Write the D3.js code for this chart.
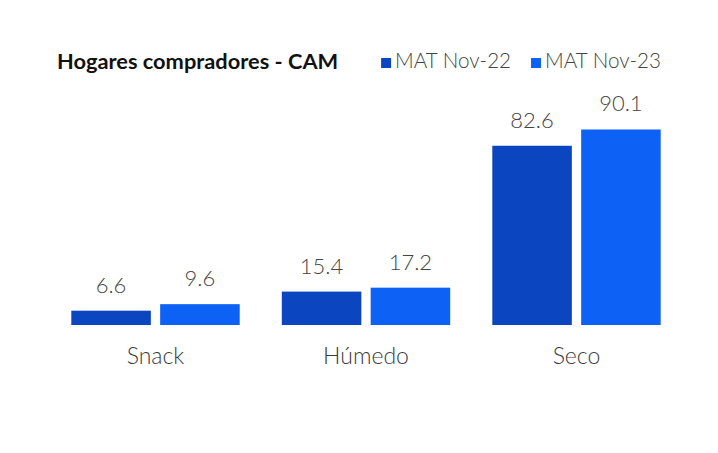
<!DOCTYPE html>
<html>
<head>
<meta charset="utf-8">
<script src="https://cdn.jsdelivr.net/npm/d3@7"></script>
<style>
  body { margin: 0; background: #fff; }
  svg { display: block; font-family: Lato, "Open Sans", sans-serif; }
</style>
</head>
<body>
<svg id="chart" width="718" height="453"></svg>
<script>
// data
const categories = ["Snack", "Húmedo", "Seco"];
const series = ["MAT Nov-22", "MAT Nov-23"];
const nov22 = [6.6, 15.4, 82.6];
const nov23 = [9.6, 17.2, 90.1];
const title = "Hogares compradores - CAM";

const colors = d3.scaleOrdinal().domain(series).range(["#0b45bf", "#0d62f5"]);

const rows = categories.map((c, i) => ({ cat: c, values: [
  { key: series[0], v: nov22[i] },
  { key: series[1], v: nov23[i] }
]}));

const svg = d3.select("#chart");
const baseline = 325;

const x0 = d3.scaleBand().domain(categories)
  .range([50.25, 681.75]).paddingInner(0.2).paddingOuter(0.1);
const x1 = d3.scaleBand().domain(series)
  .range([0, x0.bandwidth()]).paddingInner(0.105).paddingOuter(0);
const y = d3.scaleLinear().domain([0, 100]).range([baseline, 108]);

// bars
const groups = svg.selectAll("g.grp")
  .data(rows)
  .join("g")
    .attr("class", "grp")
    .attr("transform", d => "translate(" + x0(d.cat) + ",0)");

groups.selectAll("rect")
  .data(d => d.values)
  .join("rect")
    .attr("x", d => x1(d.key))
    .attr("y", d => y(d.v))
    .attr("width", x1.bandwidth())
    .attr("height", d => baseline - y(d.v))
    .attr("fill", d => colors(d.key));

// value labels
groups.selectAll("text")
  .data(d => d.values)
  .join("text")
    .attr("x", d => x1(d.key) + x1.bandwidth() / 2)
    .attr("y", d => y(d.v) - 18)
    .attr("text-anchor", "middle")
    .style("font-size", "22px")
    .style("font-weight", 300)
    .style("fill", "#444")
    .text(d => d.v.toFixed(1));

// category axis (no line, no ticks)
const xAxis = svg.append("g")
  .attr("transform", "translate(0," + baseline + ")")
  .call(d3.axisBottom(x0).tickSize(0).tickPadding(23));
xAxis.select(".domain").remove();
xAxis.selectAll("text")
  .style("font-family", "Lato, 'Open Sans', sans-serif")
  .style("font-size", "23px")
  .style("font-weight", 300)
  .style("fill", "#3a3a3a");

// title
svg.append("text")
  .attr("x", 57)
  .attr("y", 69)
  .style("font-size", "21.8px")
  .style("font-weight", 700)
  .style("fill", "#111")
  .text(title);

// legend, right aligned to the last bar
const legend = svg.append("g");
let lx = 661;
const items = series.slice().reverse();
items.forEach(s => {
  const t = legend.append("text")
    .attr("y", 68)
    .style("font-size", "20.6px")
    .style("font-weight", 300)
    .style("fill", "#444")
    .text(s);
  const w = t.node().getComputedTextLength();
  t.attr("x", lx - w);
  legend.append("rect")
    .attr("x", lx - w - 14)
    .attr("y", 58)
    .attr("width", 10)
    .attr("height", 10)
    .attr("fill", colors(s));
  lx = lx - w - 14 - 20;
});
</script>
</body>
</html>
